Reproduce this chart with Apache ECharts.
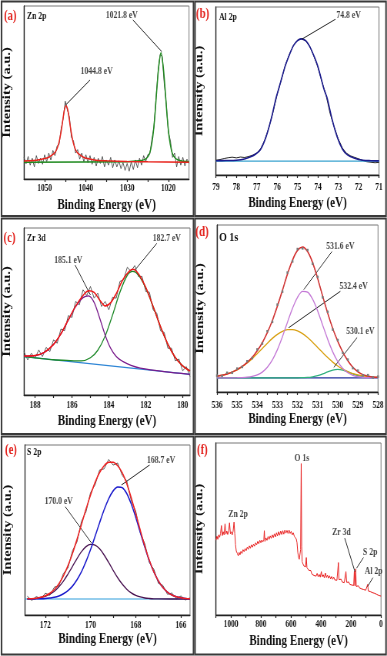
<!DOCTYPE html>
<html>
<head>
<meta charset="utf-8">
<script src="https://cdn.jsdelivr.net/npm/echarts@6.0.0/dist/echarts.min.js"></script>
<style>
html, body { margin: 0; padding: 0; background: #fff; }
#wrap { width: 387px; height: 656px; overflow: hidden; }
/* the source figure is squeezed sideways, so draw wide and scale back */
#chart { width: 503px; height: 656px; transform: scaleX(0.7694); transform-origin: 0 0; }
</style>
</head>
<body>
<div id="wrap"><div id="chart"></div></div>
<script>
// intensity is in arbitrary units, 0 = bottom of plot box, 100 = top

// (a) Zn 2p
var aRaw = [[1055,12.5],[1054.5,8.8],[1054,13],[1053.5,8],[1053,12],[1052.5,7],[1052,13.5],[1051.5,9],[1051,12],[1050.5,8.5],[1050,14],[1049.5,10],[1049,15],[1048.5,11],[1048,16.5],[1047.5,13.5],[1047,19],[1046.5,20],[1046,29],[1045.5,35],[1045,45],[1044.5,40],[1044,36],[1043.5,24],[1043,22],[1042.5,15],[1042,17],[1041.5,11.5],[1041,15],[1040.5,10],[1040,14],[1039.5,9.5],[1039,13.5],[1038.5,8.5],[1038,12.5],[1037.5,7.5],[1037,12],[1036.5,9],[1036,13],[1035.5,7],[1035,11],[1034.5,8],[1034,12.5],[1033.5,6.5],[1033,11],[1032.5,7],[1032,10.5],[1031.5,6],[1031,9.5],[1030.5,5],[1030,9],[1029.5,4.5],[1029,10],[1028.5,5.5],[1028,11],[1027.5,6.5],[1027,12],[1026.5,8],[1026,13.5],[1025.5,10],[1025,14],[1024.5,14.5],[1024,23],[1023.5,30],[1023,47],[1022.5,62],[1022,72],[1021.5,71],[1021,55],[1020.5,43],[1020,27],[1019.5,22],[1019,12.5],[1018.5,15],[1018,7],[1017.5,13],[1017,8],[1016.5,12.5],[1016,7.5],[1015.5,11.5],[1015,9]];
var aPeak1 = [[1055,10.4],[1054,10.5],[1052,10.9],[1050,11.8],[1049,12.6],[1048,14.2],[1047.5,15.3],[1047,17.5],[1046.5,21.3],[1046,27.5],[1045.6,34],[1045.2,40],[1044.8,42.4],[1044.4,40],[1044,34],[1043.6,27.5],[1043.1,21.3],[1042.6,17.5],[1042.1,15.3],[1041.6,14.2],[1040.6,12.6],[1039.6,11.8],[1037.6,10.9],[1035,10.5],[1030,10.1],[1025,9.9],[1015,9.7]];
var aPeak2 = [[1055,9.7],[1030,10.0],[1027,10.5],[1025.8,11.2],[1025.3,12],[1024.8,13.5],[1024.3,17],[1023.8,24],[1023.3,36],[1022.8,52],[1022.3,66],[1021.8,73],[1021.3,66],[1020.8,52],[1020.3,36],[1019.8,24],[1019.3,17],[1018.8,13.5],[1018.3,12],[1017.8,11.2],[1016.8,10.4],[1015,10.0]];
var aLabels = [1020, 1030, 1040, 1050];
var aTicks = [1020, 1025, 1030, 1035, 1040, 1045, 1050];

// (b) Al 2p
var bRaw = [[79,8.8],[78.8,9.2],[78.6,9.8],[78.4,10.3],[78.2,10.6],[78,10.2],[77.8,10.7],[77.6,10.4],[77.4,11.0],[77.2,11.8],[77,13.0],[76.8,15.8],[76.6,21.0],[76.4,28.5],[76.2,37.5],[76,48],[75.8,56.5],[75.6,65.3],[75.4,71.8],[75.2,77.2],[75,80.2],[74.8,81.2],[74.6,79.8],[74.4,76.6],[74.2,70.8],[74,64.2],[73.8,55.5],[73.6,47.5],[73.4,36.5],[73.2,28.5],[73,21.5],[72.8,16.2],[72.6,13.0],[72.4,11.4],[72.2,10.5],[72,9.6],[71.8,8.7],[71.6,7.9],[71.4,7.6],[71.2,7.3],[71,7.5]];
var bFit = [[79,8.5],[78.5,8.6],[78,8.8],[77.6,9.5],[77.3,10.8],[77.05,12.5],[76.8,15.5],[76.55,22.5],[76.3,33],[76.05,46],[75.9,52.3],[75.6,65],[75.4,71.5],[75.2,77],[75,80],[74.82,81],[74.6,80],[74.4,76.4],[74.2,71],[74,64.5],[73.7,51],[73.55,46],[73.3,33],[73.05,22.5],[72.8,15.5],[72.55,12],[72.2,10],[71.8,8.8],[71.4,8.5],[71,8.4]];
var bBase = [[79,8.3],[71,8.3]];
var bLabels = [71, 72, 73, 74, 75, 76, 77, 78, 79];
var bTicks = [71,71.5,72,72.5,73,73.5,74,74.5,75,75.5,76,76.5,77,77.5,78,78.5,79];

// (c) Zr 3d
var cRaw = [[188.6,26],[188.4,21],[188.2,25],[188,22],[187.8,27],[187.6,23],[187.4,28.5],[187.2,26],[187,33],[186.8,31],[186.6,39.5],[186.4,38.5],[186.2,47.5],[186,46.5],[185.8,56],[185.6,54],[185.4,63],[185.2,59.5],[185,65],[184.8,58],[184.6,61],[184.4,53],[184.2,56],[184,51],[183.8,58.5],[183.6,58],[183.4,68],[183.2,69],[183,76.5],[182.8,74],[182.6,77.5],[182.4,71],[182.2,71],[182,62],[181.8,61.5],[181.6,51],[181.4,49],[181.2,38.5],[181,37.5],[180.8,28],[180.6,28],[180.4,20.5],[180.2,21.5],[180,14.5],[179.8,17],[179.6,11]];
var cFit = [[188.6,23.3],[188,23.6],[187.5,25.5],[187,30.3],[186.6,36.7],[186.2,45.0],[185.8,53.2],[185.4,59.6],[185.1,62.4],[184.8,61.5],[184.5,56.9],[184.2,53.3],[183.9,55.3],[183.6,60.7],[183.2,69.8],[182.7,75.3],[182.4,72.6],[182,64.4],[181.6,53.0],[181.2,40.9],[180.8,30.4],[180.4,22.5],[180,17.5],[179.6,14.4]];
var cPeak1 = [[188.6,23.3],[188,23.6],[187.5,25.5],[187,30.3],[186.6,36.6],[186.2,44.8],[185.8,52.9],[185.4,58.3],[185.1,59.4],[184.8,55.5],[184.5,46.1],[184.2,35.8],[183.9,27.9],[183.6,23.1],[183.2,19.8],[182.8,17.7],[182.3,16.1],[181,14.0],[179.6,12.4]];
var cPeak2 = [[188.6,23],[187,21.1],[186.1,20.6],[185.5,20.4],[185,22.3],[184.6,26.8],[184.2,35.3],[183.8,47.9],[183.4,61.6],[183,71.7],[182.7,74],[182.4,71.9],[182,64.1],[181.6,52.9],[181.2,40.9],[180.8,30.4],[180.4,22.5],[180,17.5],[179.6,14.4]];
var cBase = [[188.6,23],[179.6,12.4]];
var cLabels = [180, 182, 184, 186, 188];
var cTicks = [180, 181, 182, 183, 184, 185, 186, 187, 188];

// (d) O 1s
var dRaw = [[536,9.8],[535.75,9.6],[535.5,11.5],[535.25,11.5],[535,14.0],[534.75,15.0],[534.5,18.4],[534.25,20.3],[534,25.5],[533.75,29.0],[533.5,36.4],[533.25,42.0],[533,52.3],[532.75,60.1],[532.5,71.5],[532.25,78.2],[532,85.6],[531.75,86.0],[531.5,85.0],[531.25,76.8],[531,68.9],[530.75,56.7],[530.5,48.0],[530.25,37.4],[530,31.1],[529.75,23.4],[529.5,19.4],[529.25,14.3],[529,12.8],[528.75,10.0],[528.5,10.1],[528.25,8.7],[528,9.2]];
var dFit = [[536,9.5],[535.75,10.0],[535.5,10.8],[535.25,11.9],[535,13.4],[534.75,15.3],[534.5,17.8],[534.25,20.8],[534,24.7],[533.75,29.5],[533.5,35.5],[533.25,42.8],[533,51.4],[532.75,60.9],[532.5,70.6],[532.25,79.0],[532,84.8],[531.75,86.8],[531.5,84.1],[531.25,77.5],[531,68.0],[530.75,57.4],[530.5,47.1],[530.25,38.0],[530,30.3],[529.75,23.9],[529.5,18.7],[529.25,14.8],[529,12.1],[528.75,10.4],[528.5,9.5],[528.25,9.0],[528,8.8]];
var dPeak1 = [[536,8.5],[535.5,8.5],[535,8.55],[534.75,8.64],[534.5,8.85],[534.25,9.3],[534,10.2],[533.75,11.9],[533.5,14.8],[533.25,19.2],[533,25.4],[532.75,33.1],[532.5,41.8],[532.25,50.1],[532,56.7],[531.75,60.2],[531.5,59.8],[531.25,55.6],[531,48.6],[530.75,40.0],[530.5,31.5],[530.25,24.0],[530,18.2],[529.75,14.1],[529.5,11.5],[529.25,10.0],[529,9.2],[528.75,8.8],[528.5,8.6],[528,8.5]];
var dPeak2 = [[536,9.5],[535.75,10.0],[535.5,10.8],[535.25,11.9],[535,13.3],[534.75,15.2],[534.5,17.4],[534.25,20.0],[534,23.0],[533.75,26.1],[533.5,29.2],[533.25,32.1],[533,34.5],[532.75,36.3],[532.5,37.3],[532.25,37.4],[532,36.6],[531.75,35.0],[531.5,32.6],[531.25,29.8],[531,26.7],[530.75,23.6],[530.5,20.6],[530.25,17.9],[530,15.6],[529.75,13.7],[529.5,12.2],[529.25,11.0],[529,10.2],[528.75,9.6],[528.5,9.2],[528.25,8.9],[528,8.7]];
var dPeak3 = [[536,8.5],[532,8.5],[531.75,8.6],[531.5,8.7],[531.25,9.1],[531,9.75],[530.75,10.8],[530.5,12.0],[530.25,13.1],[530,13.5],[529.75,13.1],[529.5,12.0],[529.25,10.8],[529,9.75],[528.75,9.1],[528.5,8.7],[528.25,8.6],[528,8.5]];
var dBase = [[536,8.5],[528,8.5]];
var dLabels = [528, 529, 530, 531, 532, 533, 534, 535, 536];
var dTicks = [528,528.5,529,529.5,530,530.5,531,531.5,532,532.5,533,533.5,534,534.5,535,535.5,536];

// (e) S 2p
var eRaw = [[172.8,11.0],[172.6,8.6],[172.4,10.8],[172.2,9.6],[172,12.8],[171.8,11.6],[171.6,16.4],[171.4,17.2],[171.2,24.5],[171,27.6],[170.8,37.8],[170.6,43.0],[170.4,55.2],[170.2,60.8],[170,72.1],[169.8,76.6],[169.6,85.3],[169.4,86.0],[169.2,91.5],[169,88.2],[168.8,89.4],[168.6,82.1],[168.4,78.9],[168.2,67.2],[168,61.0],[167.8,48.3],[167.6,41.9],[167.4,30.8],[167.2,26.9],[167,18.7],[166.8,17.4],[166.6,12.2],[166.4,12.9],[166.2,9.5],[166,11.2],[165.8,8.8],[165.6,10.1]];
var eFit = [[172.8,9.5],[172.6,9.6],[172.4,9.9],[172.2,10.45],[172,11.3],[171.8,12.8],[171.6,15.0],[171.4,18.4],[171.2,23.0],[171,29.0],[170.8,36.2],[170.6,44.5],[170.4,53.4],[170.2,62.3],[170,70.6],[169.8,78.0],[169.6,83.8],[169.4,87.8],[169.2,89.8],[169,89.9],[168.8,87.8],[168.6,83.7],[168.4,77.3],[168.2,68.9],[168,59.5],[167.8,49.8],[167.6,40.5],[167.4,32.2],[167.2,25.4],[167,20.05],[166.8,16.2],[166.6,13.5],[166.4,11.8],[166.2,10.7],[166,10.1],[165.8,9.7],[165.6,9.55]];
var ePeak1 = [[172.8,9.4],[172.6,9.4],[172.4,9.5],[172.2,9.55],[172,9.7],[171.8,10.0],[171.6,10.4],[171.4,11.2],[171.2,12.5],[171,14.3],[170.8,17.0],[170.6,20.7],[170.4,25.5],[170.2,31.5],[170,38.5],[169.8,46.3],[169.6,54.3],[169.4,61.9],[169.2,68.3],[169,73.0],[168.8,75.3],[168.6,74.9],[168.4,71.5],[168.2,65.3],[168,57.4],[167.8,48.6],[167.6,39.9],[167.4,31.9],[167.2,25.3],[167,20.0],[166.8,16.2],[166.6,13.5],[166.4,11.8],[166.2,10.7],[166,10.1],[165.8,9.7],[165.6,9.55]];
var ePeak2 = [[172.8,9.5],[172.6,9.6],[172.4,9.8],[172.2,10.3],[172,11.0],[171.8,12.2],[171.6,14.0],[171.4,16.6],[171.2,19.9],[171,24.1],[170.8,28.6],[170.6,33.2],[170.4,37.3],[170.2,40.2],[170,41.5],[169.8,41.1],[169.6,38.9],[169.4,35.3],[169.2,30.9],[169,26.3],[168.8,21.9],[168.6,18.2],[168.4,15.2],[168.2,13.0],[168,11.5],[167.8,10.6],[167.6,10.0],[167.4,9.7],[167.2,9.5],[167,9.45],[165.6,9.4]];
var eBase = [[172.9,9.4],[165.6,9.4]];
var eLabels = [166, 168, 170, 172];
var eTicks = [166, 167, 168, 169, 170, 171, 172];

// (f) survey
var fSurvey = [[1100,43.5],[1094,45.8],[1088,44.0],[1082,46.6],[1076,45.2],[1070,47.4],[1064,52.0],[1058,46.2],[1052,48.4],[1046,46.6],[1040,53.0],[1034,47.0],[1028,48.8],[1022,46.8],[1016,49.0],[1010,53.6],[1004,47.2],[998,48.4],[992,46.6],[986,48.8],[980,54.0],[975,47.4],[970,41.0],[965,37.2],[958,35.8],[952,34.4],[946,36.4],[940,35.0],[934,37.0],[927,35.8],[920,38.0],[913,36.8],[906,38.6],[899,37.4],[892,39.4],[885,38.2],[878,40.2],[871,38.8],[864,40.8],[857,39.4],[850,41.2],[843,40.0],[836,42.0],[829,40.8],[822,42.8],[815,41.4],[808,43.4],[801,42.0],[795,43.6],[788,42.4],[781,44.0],[778,49.0],[774,42.8],[767,44.8],[760,43.4],[753,45.6],[746,44.0],[739,46.0],[732,44.6],[725,46.6],[718,45.0],[711,47.2],[704,45.4],[697,47.8],[690,46.0],[683,48.4],[676,46.4],[669,48.8],[662,46.8],[655,49.0],[648,47.0],[641,49.4],[634,47.6],[627,49.2],[620,47.4],[613,49.4],[606,47.4],[599,48.6],[592,46.6],[585,47.8],[578,45.8],[571,46.6],[565,44.2],[560,42.0],[555,36.5],[550,33.6],[545,32.4],[540,33.2],[536,38.0],[532,88.0],[529,40.0],[526,31.0],[521,30.0],[515,28.6],[509,29.4],[503,28.0],[498,33.4],[494,27.6],[488,26.8],[482,26.0],[475,25.0],[468,25.8],[461,23.8],[454,24.6],[447,23.0],[440,24.0],[433,22.6],[426,24.2],[419,22.2],[412,23.6],[405,22.0],[398,25.2],[392,22.2],[385,23.4],[378,21.6],[371,24.4],[364,21.8],[357,23.2],[350,21.4],[343,22.8],[336,21.0],[329,22.4],[322,20.8],[315,22.0],[308,20.4],[301,21.4],[294,20.2],[288,21.2],[284,30.5],[280,20.6],[273,19.6],[266,20.8],[259,19.2],[252,20.2],[245,18.8],[239,19.8],[234,25.2],[229,19.0],[222,18.2],[215,19.2],[208,17.8],[201,18.6],[194,17.4],[188,18.2],[182,17.2],[178,25.4],[174,17.0],[169,26.8],[165,16.6],[158,16.2],[151,17.0],[144,15.8],[137,16.4],[130,15.2],[123,16.0],[116,14.8],[109,15.6],[102,14.4],[95,15.2],[89,17.8],[85,14.0],[78,14.8],[71,13.6],[64,14.2],[57,13.0],[50,13.8],[43,12.6],[36,13.2],[29,12.0],[22,12.6],[15,11.4],[8,11.8],[0,11.0]];
var fLabels = [0, 200, 400, 600, 800, 1000];
var fTicks = [0, 100, 200, 300, 400, 500, 600, 700, 800, 900, 1000, 1100];

// peak notes: [energy, intensity, text] and arrows [from x, y, to x, y]
var aNotes = [[1037.4, 62, '1044.8 eV'], [1031.3, 94.8, '1021.8 eV']];
var aArrows = [[1039, 57.2, 1044.9, 42.8], [1028.6, 91.9, 1021.6, 73.6]];
var bNotes = [[72.49, 94.7, '74.8 eV']];
var bArrows = [[73.14, 92.7, 74.78, 80.9]];
var cNotes = [[186.2, 80.8, '185.1 eV'], [180.86, 93.8, '182.7 eV']];
var cArrows = [[185.83, 77.8, 185.0, 59.9], [181.4, 90.8, 182.58, 74.9]];
var dNotes = [[529.87, 87.1, '531.6 eV'], [529.21, 63.3, '532.4 eV'], [528.88, 36.5, '530.1 eV']];
var dArrows = [[530.29, 84.1, 531.69, 61.3], [529.87, 60.3, 532.44, 38.5], [529.04, 32.6, 530.2, 14.7]];
var eNotes = [[166.88, 91.2, '168.7 eV'], [171.41, 66.7, '170.0 eV']];
var eArrows = [[167.39, 88.2, 168.63, 76.5], [171.12, 63.7, 169.95, 42.2]];
var fNotes = [[953, 58.3, 'Zn 2p'], [528, 90.9, 'O 1s'], [264, 48.2, 'Zr 3d'], [72, 36.5, 'S 2p'], [50, 25.2, 'Al 2p']];
var fArrows = [[174, 25.2, 242, 44.7], [163, 27.2, 117, 33.4], [90, 16.5, 54, 21.7]];

var SX = 503 / 387;
var FONT = "'Liberation Serif', 'Times New Roman', serif";

function hx(px) { return px * SX; }

function makeGrid(left, top, width, height) {
  return {
    left: hx(left), top: top, width: hx(width), height: height,
    show: true, borderColor: '#777', borderWidth: 1,
    containLabel: false, outerBoundsMode: 'none'
  };
}

function makeX(i, min, max, labels, ticks, nameGap, margin) {
  return {
    type: 'value', gridIndex: i, min: min, max: max, inverse: true,
    name: 'Binding Energy (eV)', nameLocation: 'middle', nameGap: nameGap,
    nameTextStyle: { fontFamily: FONT, fontWeight: 'bold', fontSize: 14.5, color: '#111' },
    axisLine: { show: true, onZero: false, lineStyle: { color: '#222', width: 1.3 } },
    axisTick: { show: true, inside: false, length: 3, customValues: ticks, lineStyle: { color: '#222', width: 1.2 } },
    axisLabel: {
      customValues: labels, margin: margin,
      formatter: function (v) { return String(v); },  // no thousands comma
      fontFamily: FONT, fontWeight: 'bold', fontSize: 9.5, color: '#111'
    },
    splitLine: { show: false }
  };
}

function makeY(i, nameGap) {
  return {
    type: 'value', gridIndex: i, min: 0, max: 100,
    name: 'Intensity (a.u.)', nameLocation: 'middle', nameGap: nameGap,
    nameTextStyle: { fontFamily: FONT, fontWeight: 'bold', fontSize: 14.5, color: '#111' },
    axisLine: { show: true, onZero: false, lineStyle: { color: '#222', width: 1.3 } },
    axisTick: { show: false },
    axisLabel: { show: false },
    splitLine: { show: false }
  };
}

function line(i, data, color, width, z, smooth) {
  return {
    type: 'line', xAxisIndex: i, yAxisIndex: i, data: data,
    symbol: 'none', smooth: smooth || false, z: z, silent: true,
    lineStyle: { color: color, width: width },
    itemStyle: { color: color }
  };
}

function dots(i, data, color, z) {
  return {
    type: 'line', xAxisIndex: i, yAxisIndex: i, data: data,
    symbol: 'rect', symbolSize: 2.5, showSymbol: true, z: z, silent: true,
    lineStyle: { color: color, width: 0.6, opacity: 0.6 },
    itemStyle: { color: color }
  };
}

function notes(i, items, arrows) {
  return {
    type: 'scatter', xAxisIndex: i, yAxisIndex: i, z: 10, silent: true,
    symbolSize: 1, itemStyle: { color: 'rgba(0,0,0,0)' },
    data: items.map(function (n) { return { value: [n[0], n[1]], name: n[2] }; }),
    label: { show: true, position: 'inside', formatter: '{b}', fontFamily: FONT, fontWeight: 'bold', fontSize: 10, color: '#111' },
    markLine: {
      silent: true, animation: false, symbol: ['none', 'arrow'], symbolSize: [0, 6],
      label: { show: false },
      lineStyle: { color: '#111', width: 0.9, type: 'solid' },
      data: arrows.map(function (a) { return [{ coord: [a[0], a[1]] }, { coord: [a[2], a[3]] }]; })
    }
  };
}

function frame(x, y, w, h) {
  return {
    type: 'rect', silent: true, z: 100,
    shape: { x: hx(x), y: y, width: hx(w), height: h },
    style: { fill: 'none', stroke: '#3a3a3a', lineWidth: 2 }
  };
}

function tag(x, y, text, size, color) {
  return {
    type: 'text', silent: true, z: 100, x: hx(x), y: y,
    style: { text: text, font: 'bold ' + size + 'px ' + FONT, fill: color, verticalAlign: 'middle' }
  };
}

var chart = echarts.init(document.getElementById('chart'));

var option = {
  animation: false,
  backgroundColor: '#fff',
  grid: [
    makeGrid(24, 6, 165, 173),
    makeGrid(216, 7, 163, 168),
    makeGrid(24, 228, 166, 167),
    makeGrid(217, 225, 161, 167),
    makeGrid(25, 445, 165, 170),
    makeGrid(216, 443, 165, 172)
  ],
  xAxis: [
    makeX(0, 1015, 1055, aLabels, aTicks, 18.3, 5),
    makeX(1, 71, 79, bLabels, bTicks, 20.3, 8),
    makeX(2, 179.6, 188.6, cLabels, cTicks, 18.8, 6),
    makeX(3, 528, 536, dLabels, dTicks, 18.3, 8.5),
    makeX(4, 165.6, 172.9, eLabels, eTicks, 16.8, 6),
    makeX(5, 0, 1100, fLabels, fTicks, 18.8, 5)
  ],
  yAxis: [makeY(0, 14), makeY(1, 14), makeY(2, 14), makeY(3, 14), makeY(4, 15), makeY(5, 14)],
  series: [
    line(0, aRaw, '#474747', 0.9, 2),
    line(0, aPeak2, '#1f8a1f', 1.5, 3, 0.3),
    line(0, aPeak1, '#e8231c', 1.5, 4, 0.3),
    notes(0, aNotes, aArrows),

    line(1, bRaw, '#111', 0.9, 2),
    line(1, bBase, '#3aa3cf', 1.3, 3),
    line(1, bFit, '#1c1c8e', 1.6, 4, 0.3),
    notes(1, bNotes, bArrows),

    line(2, cRaw, '#5e5e5e', 1, 2),
    line(2, cBase, '#2f86d6', 1.2, 3),
    line(2, cPeak2, '#1f8a2a', 1.3, 4, 0.3),
    line(2, cPeak1, '#7a1c8c', 1.3, 5, 0.3),
    line(2, cFit, '#ee1515', 1.5, 6, 0.3),
    notes(2, cNotes, cArrows),

    line(3, dBase, '#22309c', 1.2, 2),
    line(3, dPeak3, '#2fb07e', 1.3, 3, 0.3),
    line(3, dPeak2, '#d9a012', 1.3, 4, 0.3),
    line(3, dPeak1, '#c479d6', 1.3, 5, 0.3),
    line(3, dFit, '#e82020', 1.5, 6, 0.3),
    dots(3, dRaw, '#7a7a7a', 7),
    notes(3, dNotes, dArrows),

    line(4, eRaw, '#5e5e5e', 1, 2),
    line(4, eBase, '#2f9ddc', 1.2, 3),
    line(4, ePeak2, '#4a1452', 1.3, 4, 0.3),
    line(4, ePeak1, '#1a1acc', 1.5, 5, 0.3),
    line(4, eFit, '#ee2222', 1.5, 6, 0.3),
    notes(4, eNotes, eArrows),

    line(5, fSurvey, '#e82020', 1, 3),
    notes(5, fNotes, fArrows)
  ],
  graphic: [
    frame(1.5, 1.5, 192, 214.5),
    frame(195, 1.5, 191, 214.5),
    frame(1.5, 218.5, 192, 215.5),
    frame(195, 218.5, 191, 215.5),
    frame(1.5, 436.5, 192, 218),
    frame(195, 436.5, 191, 218),
    tag(4, 16, '(a)', 14, '#e3211c'),
    tag(27, 16, 'Zn 2p', 10, '#111'),
    tag(196, 14, '(b)', 14, '#e3211c'),
    tag(219, 17, 'Al 2p', 10, '#111'),
    tag(3.5, 238, '(c)', 14, '#e3211c'),
    tag(27, 238, 'Zr 3d', 10, '#111'),
    tag(195.5, 232, '(d)', 14, '#e3211c'),
    tag(219, 238, 'O 1s', 13, '#111'),
    tag(5, 450, '(e)', 14, '#e3211c'),
    tag(27, 452, 'S 2p', 10, '#111'),
    tag(197, 450, '(f)', 14, '#e3211c')
  ]
};

chart.setOption(option);
</script>
</body>
</html>
